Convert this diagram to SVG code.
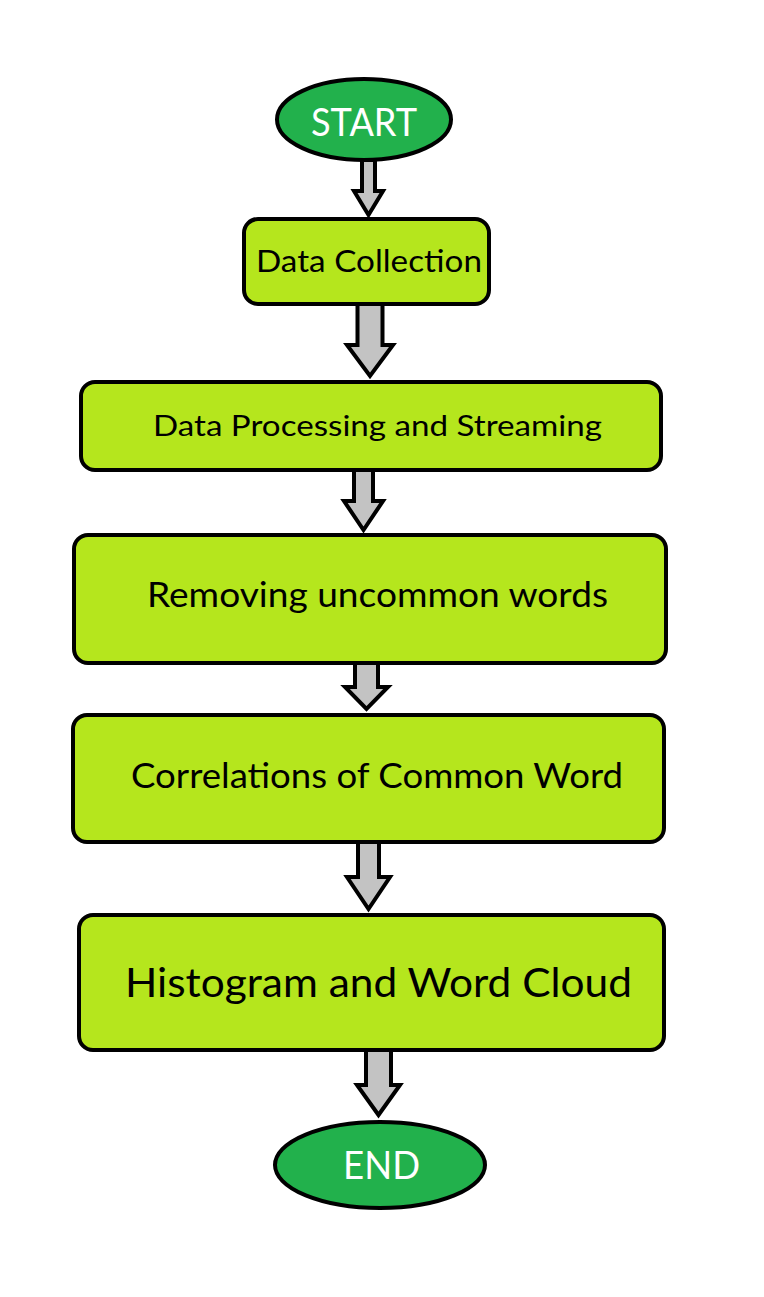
<svg xmlns="http://www.w3.org/2000/svg" width="764" height="1297" viewBox="0 0 764 1297">
<style>
.term{fill:#22B14C;stroke:#000;stroke-width:4}
.box{fill:#B5E61D;stroke:#000;stroke-width:4}
.arrow{fill:#C3C3C3;stroke:#000;stroke-width:4;stroke-linejoin:miter}
.t{font-family:Lato,"Open Sans","Liberation Sans",sans-serif;fill:#000}
.tw{font-family:Lato,"Open Sans","Liberation Sans",sans-serif;fill:#fff}
</style>
<rect x="0" y="0" width="764" height="1297" fill="#fff"/>
<g id="connectors">
<polygon class="arrow" points="362,160 375,160 375,191 383,191 368.5,215 354,191 362,191"/>
<polygon class="arrow" points="357.5,304 382.5,304 382.5,345 393,345 370,376 347,345 357.5,345"/>
<polygon class="arrow" points="354,468 373,468 373,501 383,501 363.5,530 344,501 354,501"/>
<polygon class="arrow" points="355,661 378,661 378,687 388,687 366.5,709 345,687 355,687"/>
<polygon class="arrow" points="358,842 379,842 379,877 390,877 368.5,909 347,877 358,877"/>
<polygon class="arrow" points="366,1050 391,1050 391,1085 400,1085 378.5,1115 357,1085 366,1085"/>
</g>
<g id="start">
<ellipse class="term" cx="364" cy="119.5" rx="87" ry="40.5"/>
<text class="tw" x="311" y="136" font-size="39" textLength="106" lengthAdjust="spacingAndGlyphs">START</text>
</g>
<g id="data-collection">
<rect class="box" x="244" y="219" width="245" height="85" rx="14"/>
<text class="t" x="256" y="272" font-size="31" textLength="226" lengthAdjust="spacingAndGlyphs">Data Collection</text>
</g>
<g id="data-processing">
<rect class="box" x="81" y="382" width="580" height="88" rx="14"/>
<text class="t" x="153" y="436" font-size="29" textLength="449" lengthAdjust="spacingAndGlyphs">Data Processing and Streaming</text>
</g>
<g id="removing">
<rect class="box" x="74" y="535" width="592" height="128" rx="14"/>
<text class="t" x="147" y="607" font-size="34" textLength="461" lengthAdjust="spacingAndGlyphs">Removing uncommon words</text>
</g>
<g id="correlations">
<rect class="box" x="73" y="715" width="591" height="127" rx="14"/>
<text class="t" x="131" y="788" font-size="35" textLength="492" lengthAdjust="spacingAndGlyphs">Correlations of Common Word</text>
</g>
<g id="histogram">
<rect class="box" x="79" y="915" width="585" height="135" rx="14"/>
<text class="t" x="125" y="997" font-size="40" textLength="507" lengthAdjust="spacingAndGlyphs">Histogram and Word Cloud</text>
</g>
<g id="end">
<ellipse class="term" cx="380" cy="1165" rx="105" ry="43"/>
<text class="tw" x="343" y="1179" font-size="38" textLength="77" lengthAdjust="spacingAndGlyphs">END</text>
</g>
</svg>
